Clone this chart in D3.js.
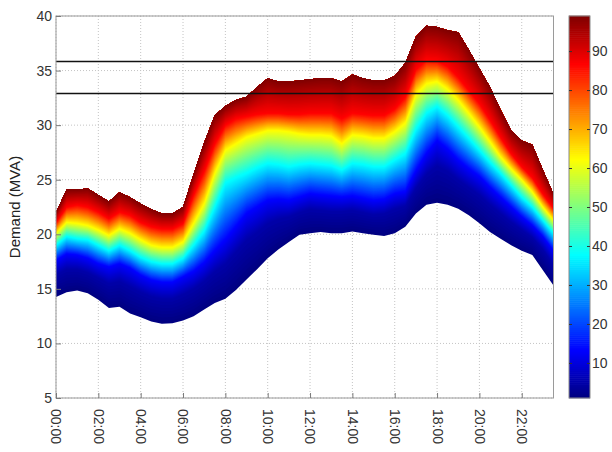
<!DOCTYPE html>
<html><head><meta charset="utf-8">
<script src="https://cdn.jsdelivr.net/npm/d3@7"></script>
<style>
body{margin:0;background:#fff}
svg text{font-family:"Liberation Sans",Arial,Helvetica,sans-serif}
</style>
</head><body>
<svg id="c" width="612" height="452"></svg>
<script>
// ---- data ----
const times = ["00:00","00:30","01:00","01:30","02:00","02:30","03:00","03:30","04:00","04:30","05:00","05:30",
  "06:00","06:30","07:00","07:30","08:00","08:30","09:00","09:30","10:00","10:30","11:00","11:30",
  "12:00","12:30","13:00","13:30","14:00","14:30","15:00","15:30","16:00","16:30","17:00","17:30",
  "18:00","18:30","19:00","19:30","20:00","20:30","21:00","21:30","22:00","22:30","23:00","23:30"];
// percentile levels of the read curves
const pLevels = [1, 5, 13.25, 37.75, 62.25, 86.75, 99];
const p01 = [14.25,14.7,14.85,14.6,14.0,13.25,13.35,12.75,12.4,12.0,11.8,11.85,
  12.1,12.5,13.1,13.7,14.1,14.9,15.85,16.8,17.8,18.6,19.3,19.95,
  20.1,20.2,20.1,20.1,20.25,20.1,19.95,19.85,20.1,20.7,21.9,22.7,
  22.9,22.7,22.35,21.75,21.0,20.2,19.6,19.0,18.5,18.1,16.7,15.3];
const p05 = [16.3,16.8,16.8,16.5,16.0,15.5,15.7,15.2,14.7,14.3,14.1,14.1,
  14.5,15.0,15.7,16.6,17.3,18.4,19.5,20.2,21.0,21.4,21.6,22.0,
  22.3,22.2,22.1,22.1,22.2,22.0,21.8,21.9,22.3,22.6,24.2,25.5,
  26.3,25.8,25.0,24.3,23.6,22.7,21.9,21.1,20.4,19.7,18.6,17.2];
const p13 = [17.6,18.2,18.1,17.8,17.3,17.0,17.3,16.9,16.25,15.8,15.6,15.6,
  16.1,16.6,17.4,18.5,19.5,20.7,21.9,22.5,23.1,23.2,23.1,23.4,
  23.7,23.6,23.5,23.4,23.5,23.3,23.1,23.2,23.7,23.9,25.8,27.4,
  28.6,27.8,26.8,26.0,25.3,24.3,23.4,22.5,21.6,20.8,19.8,18.5];
const p38 = [19.0,19.8,19.6,19.5,19.0,18.5,19.0,18.5,17.9,17.5,17.3,17.3,
  17.8,19.0,20.3,22.5,24.7,25.2,25.6,26.1,26.5,26.4,26.2,26.4,
  26.5,26.4,26.3,25.9,26.5,26.4,26.2,26.2,26.8,27.4,29.6,31.1,
  31.7,30.9,29.85,28.8,27.7,26.6,25.6,24.5,23.4,22.5,21.3,20.1];
const p62 = [20.1,21.1,21.0,20.8,20.4,19.9,20.5,20.1,19.5,19.0,18.8,18.8,
  19.3,21.0,22.8,25.6,27.7,28.3,28.9,29.2,29.5,29.5,29.4,29.2,
  29.1,29.1,29.0,28.3,29.1,29.0,28.8,28.8,29.4,30.2,32.8,33.8,
  34.0,33.3,32.3,31.1,29.85,28.5,27.1,26.0,25.0,23.9,22.5,21.3];
const p87 = [21.1,22.5,22.7,22.5,22.05,21.45,22.05,21.75,21.1,20.7,20.5,20.5,
  21.0,23.6,25.8,28.3,30.0,30.6,30.8,31.0,31.1,31.1,31.0,31.0,
  31.1,31.1,31.1,30.6,31.1,31.0,30.9,30.9,31.5,32.6,35.1,36.0,
  35.9,35.4,34.4,33.2,32.0,30.5,28.9,27.4,26.2,25.2,23.7,22.4];
const p99 = [22.0,24.1,24.1,24.2,23.6,23.0,23.85,23.4,22.8,22.3,21.9,21.9,
  22.5,25.5,28.4,30.9,31.75,32.3,32.6,33.5,34.3,34.0,34.0,34.1,
  34.2,34.3,34.3,34.0,34.65,34.3,34.1,34.1,34.5,35.7,38.1,39.1,
  39.0,38.7,38.5,36.9,35.2,33.5,31.4,29.5,28.6,28.2,25.9,23.7];
const xTickLabels = ["00:00","02:00","04:00","06:00","08:00","10:00","12:00","14:00","16:00","18:00","20:00","22:00"];
const yTicks = [5,10,15,20,25,30,35,40];
const cbTicks = [10,20,30,40,50,60,70,80,90];
const limitLines = [35.84, 32.9];
const yLabel = "Demand (MVA)";

// ---- layout ----
const L = 56, R = 553.5, T = 16, B = 398;
const CBL = 569, CBR = 590;
const svg = d3.select("#c");
const hrs = t => +t.slice(0,2) + (+t.slice(3))/60;
const hours = times.map(hrs);
const x = d3.scaleLinear().domain([0, 23.5]).range([L, R]);
const y = d3.scaleLinear().domain([5, 40]).range([B, T]);
const cnorm = d3.scaleLinear().domain([1, 99]).range([0, 1]);
const cb = d3.scaleLinear().domain([1, 99]).range([B, T]);

function jet(t){
  const c = v => Math.max(0, Math.min(1, v));
  const r = c(1.5 - Math.abs(4*t - 3)), g = c(1.5 - Math.abs(4*t - 2)), b = c(1.5 - Math.abs(4*t - 1));
  return d3.rgb(r*255, g*255, b*255).formatHex();
}
const curves = [p01, p05, p13, p38, p62, p87, p99];
function quant(i, p){
  let k = 0;
  while (k < pLevels.length - 2 && p > pLevels[k+1]) k++;
  const f = (p - pLevels[k]) / (pLevels[k+1] - pLevels[k]);
  return curves[k][i] + f * (curves[k+1][i] - curves[k][i]);
}

// grid
const gGrid = svg.append("g").attr("stroke", "#c4c4c4").attr("stroke-dasharray", "1,2").attr("stroke-width", 1);
xTickLabels.map(hrs).forEach(h => gGrid.append("line").attr("x1", x(h)).attr("x2", x(h)).attr("y1", T).attr("y2", B));
yTicks.forEach(v => gGrid.append("line").attr("x1", L).attr("x2", R).attr("y1", y(v)).attr("y2", y(v)));

// fan bands
svg.append("clipPath").attr("id", "pc").append("rect").attr("x", L).attr("y", T).attr("width", R - L).attr("height", B - T);
const gFan = svg.append("g").attr("clip-path", "url(#pc)");
const step = 0.5;
for (let p = 1; p < 99 - 1e-9; p += step) {
  const area = d3.area().curve(d3.curveLinear)
    .x((d, i) => x(hours[i]))
    .y0((d, i) => y(quant(i, p)))
    .y1((d, i) => y(p99[i]));
  gFan.append("path").attr("d", area(times)).attr("fill", jet(cnorm(p + step/2)));
}

// threshold lines
limitLines.forEach(v => svg.append("line").attr("x1", L).attr("x2", R).attr("y1", y(v)).attr("y2", y(v))
  .attr("stroke", "#111").attr("stroke-width", 1.5));

// box
svg.append("rect").attr("x", L).attr("y", T).attr("width", R - L).attr("height", B - T)
  .attr("fill", "none").attr("stroke", "#9a9a9a").attr("stroke-width", 1);

// axes
const xAxis = d3.axisBottom(x).tickValues(xTickLabels.map(hrs)).tickFormat((d, i) => xTickLabels[i])
  .tickSizeInner(-5).tickSizeOuter(0);
const gx = svg.append("g").attr("transform", `translate(0,${B})`).call(xAxis);
gx.select(".domain").remove();
gx.selectAll("line").attr("stroke", "#7a7a7a");
gx.selectAll("text").attr("transform", "rotate(90)").attr("x", 11).attr("y", 0).attr("dy", "0.36em")
  .attr("text-anchor", "start").attr("fill", "#333").attr("font-size", 14);

const yAxis = d3.axisLeft(y).tickValues(yTicks).tickSizeInner(-5).tickSizeOuter(0).tickPadding(4);
const gy = svg.append("g").attr("transform", `translate(${L},0)`).call(yAxis);
gy.select(".domain").remove();
gy.selectAll("line").attr("stroke", "#7a7a7a");
gy.selectAll("text").attr("fill", "#333").attr("font-size", 14);

svg.append("text").attr("transform", `translate(15,${(T + B) / 2}) rotate(-90)`).attr("text-anchor", "middle")
  .attr("dy", "0.35em").attr("font-size", 15).attr("fill", "#222").text(yLabel);

// colorbar
const gcb = svg.append("g");
for (let p = 1; p < 99 - 1e-9; p += step) {
  gcb.append("rect").attr("x", CBL).attr("width", CBR - CBL)
    .attr("y", cb(p + step) - 0.3).attr("height", cb(p) - cb(p + step) + 0.6)
    .attr("fill", jet(cnorm(p + step/2)));
}
gcb.append("rect").attr("x", CBL).attr("y", T).attr("width", CBR - CBL).attr("height", B - T)
  .attr("fill", "none").attr("stroke", "#8a8a8a");
const cbAxisR = d3.axisRight(cb).tickValues(cbTicks).tickSizeInner(-3).tickSizeOuter(0).tickPadding(2);
const gcr = svg.append("g").attr("transform", `translate(${CBR},0)`).call(cbAxisR);
gcr.select(".domain").remove();
gcr.selectAll("line").attr("stroke", "#333");
gcr.selectAll("text").attr("fill", "#333").attr("font-size", 14);
const cbAxisL = d3.axisLeft(cb).tickValues(cbTicks).tickSizeInner(-3).tickSizeOuter(0).tickFormat("");
const gcl = svg.append("g").attr("transform", `translate(${CBL},0)`).call(cbAxisL);
gcl.select(".domain").remove();
gcl.selectAll("line").attr("stroke", "#333");
</script>
</body></html>
